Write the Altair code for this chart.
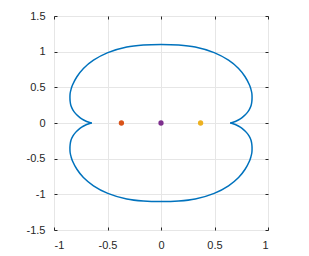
import altair as alt
import pandas as pd

# Curve: upper half (left cusp -> right cusp) and lower half
upper_x = [
    -0.647, -0.680, -0.709, -0.741, -0.771, -0.800, -0.824, -0.842, -0.849, -0.851,
    -0.849, -0.840, -0.827, -0.786, -0.725, -0.631, -0.497, -0.320, -0.165, 0.000,
    0.165, 0.320, 0.497, 0.631, 0.725, 0.786, 0.827, 0.840, 0.849, 0.851,
    0.849, 0.842, 0.824, 0.800, 0.771, 0.741, 0.709, 0.680, 0.647,
]
upper_y = [
    0.000, 0.014, 0.032, 0.058, 0.093, 0.135, 0.185, 0.245, 0.301, 0.360,
    0.417, 0.475, 0.532, 0.648, 0.764, 0.880, 0.986, 1.065, 1.094, 1.102,
    1.094, 1.065, 0.986, 0.880, 0.764, 0.648, 0.532, 0.475, 0.417, 0.360,
    0.301, 0.245, 0.185, 0.135, 0.093, 0.058, 0.032, 0.014, 0.000,
]
lower_x = [
    -0.647, -0.680, -0.709, -0.741, -0.771, -0.800, -0.824, -0.842, -0.849, -0.851,
    -0.849, -0.840, -0.827, -0.786, -0.725, -0.631, -0.497, -0.320, -0.165, 0.000,
    0.165, 0.320, 0.497, 0.631, 0.725, 0.786, 0.827, 0.840, 0.849, 0.851,
    0.849, 0.842, 0.824, 0.800, 0.771, 0.741, 0.709, 0.680, 0.647,
]
lower_y = [
    0.000, -0.014, -0.032, -0.058, -0.093, -0.135, -0.185, -0.245, -0.301, -0.360,
    -0.417, -0.475, -0.532, -0.648, -0.764, -0.880, -0.986, -1.065, -1.094, -1.102,
    -1.094, -1.065, -0.986, -0.880, -0.764, -0.648, -0.532, -0.475, -0.417, -0.360,
    -0.301, -0.245, -0.185, -0.135, -0.093, -0.058, -0.032, -0.014, 0.000,
]

point_x = [-0.37, 0.0, 0.37]
point_y = [0.0, 0.0, 0.0]
point_names = ["p1", "p2", "p3"]
point_colors = ["#D95319", "#7E2F8E", "#EDB120"]

x_ticks = [-1, -0.5, 0, 0.5, 1]
y_ticks = [-1.5, -1, -0.5, 0, 0.5, 1, 1.5]

curve = pd.concat([
    pd.DataFrame({"x": upper_x, "y": upper_y, "i": list(range(len(upper_x))), "half": "upper"}),
    pd.DataFrame({"x": lower_x, "y": lower_y, "i": list(range(len(lower_x))), "half": "lower"}),
], ignore_index=True)
pts = pd.DataFrame({"x": point_x, "y": point_y, "name": point_names})

xscale = alt.Scale(domain=[-1, 1], nice=False, zero=False)
yscale = alt.Scale(domain=[-1.5, 1.5], nice=False, zero=False)

FONT = "Liberation Sans"
TXT = "#262626"
GRID = "#e6e6e6"

label_common = dict(
    title="",
    labelFont=FONT,
    labelFontSize=11,
    labelColor=TXT,
    tickColor=TXT,
    tickSize=3,
    offset=-3,
    domain=False,
    grid=True,
    gridColor=GRID,
    gridWidth=1,
    labelExpr="'' + datum.value",
)
tick_common = dict(
    title="",
    labels=False,
    tickColor=TXT,
    tickSize=3,
    offset=-3,
    domain=False,
    grid=False,
)

line = alt.Chart(curve).mark_line(
    color="#0072BD", strokeWidth=1.5, interpolate="catmull-rom"
).encode(
    x=alt.X("x:Q", scale=xscale,
            axis=alt.Axis(orient="bottom", values=x_ticks, labelPadding=9, **label_common)),
    y=alt.Y("y:Q", scale=yscale,
            axis=alt.Axis(orient="left", values=y_ticks, labelPadding=9, **label_common)),
    detail="half:N",
    order="i:Q",
)

points = alt.Chart(pts).mark_circle(size=28, opacity=1).encode(
    x=alt.X("x:Q", scale=xscale, axis=alt.Axis(orient="top", values=x_ticks, **tick_common)),
    y=alt.Y("y:Q", scale=yscale, axis=alt.Axis(orient="right", values=y_ticks, **tick_common)),
    color=alt.Color("name:N", scale=alt.Scale(domain=point_names, range=point_colors), legend=None),
)

chart = (
    alt.layer(line, points)
    .resolve_axis(x="independent", y="independent")
    .properties(
        width=214,
        height=214,
        autosize=alt.AutoSizeParams(type="none"),
        padding={"left": 46, "top": 8, "right": 10, "bottom": 20},
    )
    .configure_view(stroke="#868686", strokeWidth=1)
    .configure(background="white")
)

chart.save("out.html", embed_options={"renderer": "svg", "actions": False})
